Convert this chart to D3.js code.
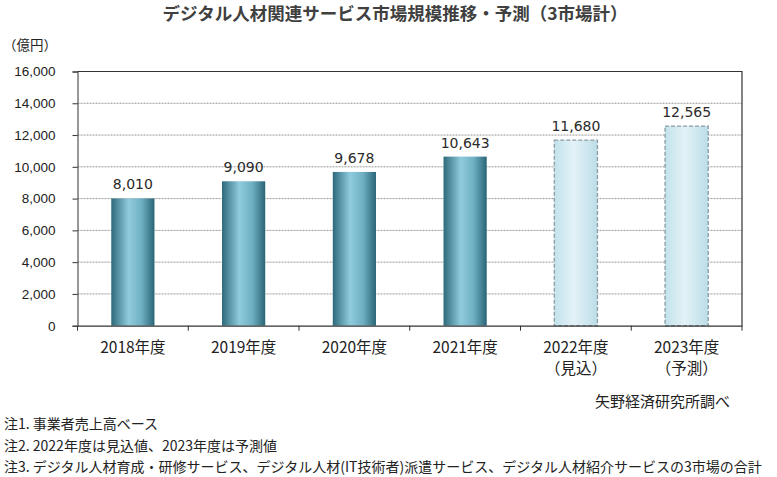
<!DOCTYPE html>
<html>
<head>
<meta charset="utf-8">
<script src="https://cdn.jsdelivr.net/npm/d3@7"></script>
<style>
  body { margin: 0; background: #fff; }
  text { font-family: "Noto Sans CJK JP", "Noto Sans", sans-serif; fill: #222; }
</style>
</head>
<body>
<svg width="777" height="477"></svg>
<script>
// data
var years = ["2018年度", "2019年度", "2020年度", "2021年度", "2022年度", "2023年度"];
var subLabels = ["", "", "", "", "（見込）", "（予測）"];
var values = [8010, 9090, 9678, 10643, 11680, 12565];
var forecast = [false, false, false, false, true, true];
var yTicks = [0, 2000, 4000, 6000, 8000, 10000, 12000, 14000, 16000];
var notes = [
  "注1. 事業者売上高ベース",
  "注2. 2022年度は見込値、2023年度は予測値",
  "注3. デジタル人材育成・研修サービス、デジタル人材(IT技術者)派遣サービス、デジタル人材紹介サービスの3市場の合計"
];

var svg = d3.select("svg");
var plotLeft = 77.5, plotRight = 742, plotTop = 71.5, plotBottom = 325.7;

var xScale = d3.scaleBand()
    .domain(years)
    .range([plotLeft, plotRight])
    .paddingInner(0.61)
    .paddingOuter(0.305);

var yScale = d3.scaleLinear()
    .domain([0, 16000])
    .range([plotBottom, plotTop]);

// gradients
var defs = svg.append("defs");
var g1 = defs.append("linearGradient").attr("id", "barGrad");
g1.append("stop").attr("offset", "0%").attr("stop-color", "#2c6a7b");
g1.append("stop").attr("offset", "40%").attr("stop-color", "#8fcbdc");
g1.append("stop").attr("offset", "70%").attr("stop-color", "#6fb0c3");
g1.append("stop").attr("offset", "100%").attr("stop-color", "#2a6576");
var g2 = defs.append("linearGradient").attr("id", "fcGrad");
g2.append("stop").attr("offset", "0%").attr("stop-color", "#c3e2ec");
g2.append("stop").attr("offset", "45%").attr("stop-color", "#e3f2f7");
g2.append("stop").attr("offset", "100%").attr("stop-color", "#bcdde8");

// title
svg.append("text")
    .attr("x", 395).attr("y", 20)
    .attr("text-anchor", "middle")
    .style("font-size", "17.5px").style("font-weight", "600").style("fill", "#404040")
    .text("デジタル人材関連サービス市場規模推移・予測（3市場計）");

svg.append("text")
    .attr("x", 3).attr("y", 50)
    .style("font-size", "13.5px")
    .text("（億円）");

// gridlines
svg.append("g").selectAll("line")
    .data(yTicks.filter(function(d) { return d > 0 && d < 16000; }))
    .enter().append("line")
    .attr("x1", plotLeft).attr("x2", plotRight)
    .attr("y1", function(d) { return yScale(d); })
    .attr("y2", function(d) { return yScale(d); })
    .attr("stroke", "#999").attr("stroke-width", 1)
    .attr("stroke-dasharray", "2,1");

// y axis
var y_axis = d3.axisLeft(yScale)
    .tickValues(yTicks)
    .tickFormat(d3.format(","))
    .tickSize(5)
    .tickPadding(17);
var gy = svg.append("g")
    .attr("transform", "translate(" + plotLeft + ",0)")
    .call(y_axis);
gy.select(".domain").attr("stroke", "#333");
gy.selectAll(".tick line").attr("stroke", "#333");
gy.selectAll("text").style("font-size", "13.5px").style("font-family", "'Liberation Sans',sans-serif").style("fill", "#222");

// plot box top/right
svg.append("path")
    .attr("d", "M" + plotLeft + "," + plotTop + "H" + plotRight + "V" + plotBottom)
    .attr("fill", "none").attr("stroke", "#333").attr("stroke-width", 1.2);

// bars
svg.append("g").selectAll("rect")
    .data(values)
    .enter().append("rect")
    .attr("x", function(d, i) { return xScale(years[i]); })
    .attr("width", xScale.bandwidth())
    .attr("y", function(d) { return yScale(d); })
    .attr("height", function(d) { return plotBottom - yScale(d); })
    .attr("fill", function(d, i) { return forecast[i] ? "url(#fcGrad)" : "url(#barGrad)"; })
    .attr("stroke", function(d, i) { return forecast[i] ? "#8a9ba3" : "none"; })
    .attr("stroke-width", 1.3)
    .attr("stroke-dasharray", function(d, i) { return forecast[i] ? "4,2" : null; });

// value labels
svg.append("g").selectAll("text")
    .data(values)
    .enter().append("text")
    .attr("x", function(d, i) { return xScale(years[i]) + xScale.bandwidth() / 2; })
    .attr("y", function(d) { return yScale(d) - 9; })
    .attr("text-anchor", "middle")
    .style("font-family", "'DejaVu Sans', sans-serif")
    .style("font-size", "14px").style("fill", "#2a2a2a")
    .text(function(d) { return d3.format(",")(d); });

// x axis
var x_axis = d3.axisBottom(xScale).tickSize(0).tickFormat("");
var gx = svg.append("g")
    .attr("transform", "translate(0," + plotBottom + ")")
    .call(x_axis);
gx.select(".domain").attr("stroke", "#333").attr("stroke-width", 1.2);
var step = xScale.step();
gx.selectAll(".sep")
    .data(d3.range(years.length + 1))
    .enter().append("line")
    .attr("x1", function(i) { return plotLeft + i * step; })
    .attr("x2", function(i) { return plotLeft + i * step; })
    .attr("y1", 0).attr("y2", 5)
    .attr("stroke", "#333");

var labels = svg.append("g").selectAll("g")
    .data(years)
    .enter().append("g")
    .attr("transform", function(d) { return "translate(" + (xScale(d) + xScale.bandwidth() / 2) + "," + (plotBottom + 27) + ")"; });
labels.append("text")
    .attr("text-anchor", "middle")
    .style("font-size", "15.5px")
    .text(function(d) { return d; });
labels.append("text")
    .attr("y", 21)
    .attr("text-anchor", "middle")
    .style("font-size", "15.5px")
    .text(function(d, i) { return subLabels[i]; });

// source
svg.append("text")
    .attr("x", 730).attr("y", 407)
    .attr("text-anchor", "end")
    .style("font-size", "15px")
    .text("矢野経済研究所調べ");

// notes
svg.append("g").selectAll("text")
    .data(notes)
    .enter().append("text")
    .attr("x", 4)
    .attr("y", function(d, i) { return 429 + i * 21.5; })
    .style("font-size", "14px")
    .text(function(d) { return d; });
</script>
</body>
</html>
